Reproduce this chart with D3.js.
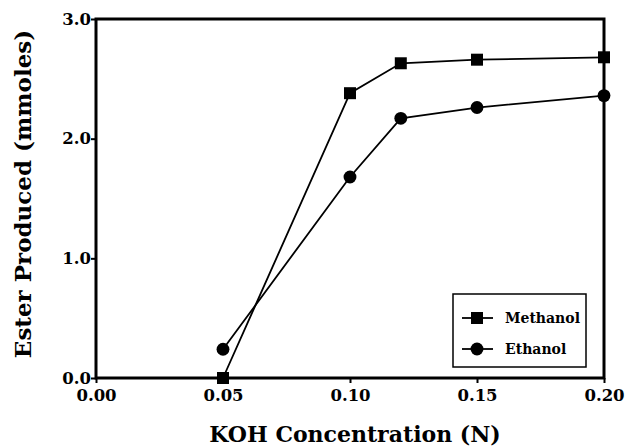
<!DOCTYPE html>
<html>
<head>
<meta charset="utf-8">
<script src="https://cdn.jsdelivr.net/npm/d3@7"></script>
<style>
  body { margin: 0; background: #fff; }
  text { font-family: "DejaVu Serif", serif; font-weight: bold; fill: #000; }
</style>
</head>
<body>
<svg id="chart" width="626" height="447"></svg>
<script>
// datos
const koh = [0.05, 0.10, 0.12, 0.15, 0.20];
const methanol = [0.00, 2.38, 2.63, 2.66, 2.68];
const ethanol = [0.24, 1.68, 2.17, 2.26, 2.36];
const xTicks = [0.00, 0.05, 0.10, 0.15, 0.20];
const yTicks = [0.0, 1.0, 2.0, 3.0];
const seriesNames = ['Methanol', 'Ethanol'];

const svg = d3.select('#chart');
const mLeft = 96, mRight = 604, mTop = 19, mBottom = 378;

const x = d3.scaleLinear().domain([0, 0.20]).range([mLeft, mRight]);
const y = d3.scaleLinear().domain([0, 3]).range([mBottom, mTop]);

// marco
svg.append('rect')
    .attr('x', mLeft).attr('y', mTop)
    .attr('width', mRight - mLeft).attr('height', mBottom - mTop)
    .attr('fill', 'none').attr('stroke', '#000').attr('stroke-width', 3);

// ejes
const xAxis = svg.append('g')
    .attr('transform', `translate(0,${mBottom})`)
    .call(d3.axisBottom(x).tickValues(xTicks).tickFormat(d3.format('.2f')).tickSize(5).tickPadding(6));
const yAxis = svg.append('g')
    .attr('transform', `translate(${mLeft},0)`)
    .call(d3.axisLeft(y).tickValues(yTicks).tickFormat(d3.format('.1f')).tickSize(5).tickPadding(0));

[xAxis, yAxis].forEach(g => {
    g.attr('font-family', null).attr('font-size', null);
    g.select('.domain').remove();
    g.selectAll('line').attr('stroke', '#000').attr('stroke-width', 2);
    g.selectAll('text').attr('font-size', 16.5).attr('fill', '#000');
});

// líneas de datos
const line = d3.line().x(d => x(d[0])).y(d => y(d[1]));
const data = [
    { name: seriesNames[0], pts: koh.map((k, i) => [k, methanol[i]]), shape: 'square' },
    { name: seriesNames[1], pts: koh.map((k, i) => [k, ethanol[i]]), shape: 'circle' }
];

data.forEach(s => {
    svg.append('path')
        .datum(s.pts)
        .attr('d', line)
        .attr('fill', 'none')
        .attr('stroke', '#000')
        .attr('stroke-width', 1.8);
    const sym = d3.symbol().type(s.shape === 'square' ? d3.symbolSquare : d3.symbolCircle)
        .size(s.shape === 'square' ? 144 : 130);
    svg.append('g').selectAll('path')
        .data(s.pts)
        .enter().append('path')
        .attr('d', sym)
        .attr('transform', d => `translate(${x(d[0])},${y(d[1])})`)
        .attr('fill', '#000');
});

// leyenda
const legend = svg.append('g');
legend.append('rect')
    .attr('x', 453).attr('y', 294).attr('width', 133).attr('height', 73)
    .attr('fill', '#fff').attr('stroke', '#000').attr('stroke-width', 1.5);
data.forEach((s, i) => {
    const ly = 318 + i * 31;
    legend.append('line')
        .attr('x1', 462).attr('x2', 493).attr('y1', ly).attr('y2', ly)
        .attr('stroke', '#000').attr('stroke-width', 1.8);
    legend.append('path')
        .attr('d', d3.symbol().type(s.shape === 'square' ? d3.symbolSquare : d3.symbolCircle)
            .size(s.shape === 'square' ? 144 : 130))
        .attr('transform', `translate(477,${ly})`)
        .attr('fill', '#000');
    legend.append('text')
        .attr('x', 505).attr('y', ly + 5)
        .attr('font-size', 14)
        .text(s.name);
});

// títulos de ejes
svg.append('text')
    .attr('x', 355).attr('y', 442)
    .attr('text-anchor', 'middle')
    .attr('font-size', 22)
    .text('KOH Concentration (N)');
svg.append('text')
    .attr('transform', 'translate(31,194) rotate(-90)')
    .attr('text-anchor', 'middle')
    .attr('font-size', 23)
    .text('Ester Produced (mmoles)');
</script>
</body>
</html>
